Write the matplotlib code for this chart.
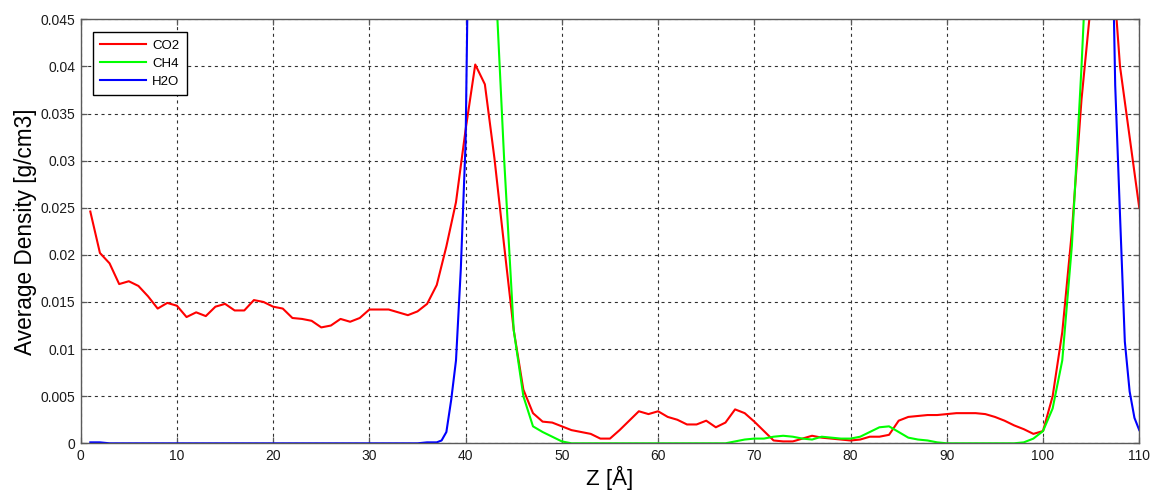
import matplotlib
matplotlib.use("Agg")
import matplotlib.pyplot as plt
from matplotlib.ticker import FixedLocator, FixedFormatter

plt.rcParams["font.family"] = ["Liberation Sans", "DejaVu Sans"]
plt.rcParams["lines.scale_dashes"] = False

# Z positions of the density bins (Angstrom)
z = list(range(1, 111))

co2 = [
    0.0246, 0.0202, 0.0191, 0.0169, 0.0172, 0.0167, 0.0156, 0.0143, 0.0149, 0.0146,
    0.0134, 0.0139, 0.0135, 0.0145, 0.0148, 0.0141, 0.0141, 0.0152, 0.0150, 0.0145,
    0.0143, 0.0133, 0.0132, 0.0130, 0.0123, 0.0125, 0.0132, 0.0129, 0.0133, 0.0142,
    0.0142, 0.0142, 0.0139, 0.0136, 0.0140, 0.0148, 0.0168, 0.0209, 0.0256, 0.0333,
    0.0402, 0.0381, 0.0302, 0.0210, 0.0120, 0.0057, 0.0032, 0.0023, 0.0022, 0.0018,
    0.0014, 0.0012, 0.0010, 0.0005, 0.0005, 0.0014, 0.0024, 0.0034, 0.0031, 0.0034,
    0.0028, 0.0025, 0.0020, 0.0020, 0.0024, 0.0017, 0.0022, 0.0036, 0.0032, 0.0023,
    0.0013, 0.0003, 0.0002, 0.0002, 0.0005, 0.0008, 0.0006, 0.0005, 0.0004, 0.0003,
    0.0004, 0.0007, 0.0007, 0.0009, 0.0024, 0.0028, 0.0029, 0.0030, 0.0030, 0.0031,
    0.0032, 0.0032, 0.0032, 0.0031, 0.0028, 0.0024, 0.0019, 0.0015, 0.0010, 0.0013,
    0.0050, 0.0118, 0.0225, 0.0365, 0.0470, 0.0550, 0.0540, 0.0400, 0.0325, 0.0250,
]

ch4 = [
    0.0712, 0.0705, 0.0698, 0.0703, 0.0710, 0.0707, 0.0699, 0.0702, 0.0708, 0.0711,
    0.0704, 0.0700, 0.0697, 0.0703, 0.0709, 0.0706, 0.0701, 0.0698, 0.0704, 0.0710,
    0.0707, 0.0702, 0.0699, 0.0705, 0.0711, 0.0708, 0.0703, 0.0700, 0.0706, 0.0712,
    0.0709, 0.0704, 0.0701, 0.0707, 0.0713, 0.0716, 0.0722, 0.0731, 0.0745, 0.0760,
    0.0720, 0.0640, 0.0515, 0.0302, 0.0120, 0.0050, 0.0018, 0.0012, 0.0007, 0.0002,
    0.0000, 0.0000, 0.0000, 0.0000, 0.0000, 0.0000, 0.0000, 0.0000, 0.0000, 0.0000,
    0.0000, 0.0000, 0.0000, 0.0000, 0.0000, 0.0000, 0.0000, 0.0002, 0.0004, 0.0005,
    0.0005, 0.0007, 0.0008, 0.0007, 0.0005, 0.0004, 0.0007, 0.0006, 0.0005, 0.0005,
    0.0007, 0.0012, 0.0017, 0.0018, 0.0012, 0.0006, 0.0004, 0.0003, 0.0001, 0.0000,
    0.0000, 0.0000, 0.0000, 0.0000, 0.0000, 0.0000, 0.0000, 0.0001, 0.0005, 0.0013,
    0.0037, 0.0088, 0.0210, 0.0400, 0.0620, 0.0760, 0.0745, 0.0728, 0.0718, 0.0712,
]

# water is sampled more finely across the two interfaces
z_h2o = (list(range(1, 38)) + [37.5, 38, 38.5, 39, 39.5, 40, 40.5]
         + list(range(41, 108)) + [107.5, 108, 108.5, 109, 109.5, 110])

h2o = (
    [0.0001, 0.0001, 0.0, 0.0, 0.0, 0.0, 0.0, 0.0, 0.0, 0.0,
     0.0, 0.0, 0.0, 0.0, 0.0, 0.0, 0.0, 0.0, 0.0, 0.0,
     0.0, 0.0, 0.0, 0.0, 0.0, 0.0, 0.0, 0.0, 0.0, 0.0,
     0.0, 0.0, 0.0, 0.0, 0.0, 0.0001, 0.0001,
     0.0003, 0.0012, 0.0046, 0.0088, 0.0185, 0.0320, 0.0700]
    + [0.31, 0.62, 0.85, 0.96, 0.99, 1.00, 1.01, 0.99, 1.00, 1.00,
       1.01, 0.99, 1.00, 1.00, 0.99, 1.01, 1.00, 1.00, 0.99, 1.00,
       1.01, 1.00, 0.99, 1.00, 1.00, 1.01, 0.99, 1.00, 1.00, 1.00,
       0.99, 1.01, 1.00, 1.00, 0.99, 1.00, 1.01, 1.00, 0.99, 1.00,
       1.00, 1.01, 0.99, 1.00, 1.00, 1.00, 0.99, 1.01, 1.00, 1.00,
       0.99, 1.00, 1.01, 1.00, 0.99, 1.00, 1.00, 1.01, 1.00, 0.98,
       0.95, 0.86, 0.66, 0.40, 0.19, 0.09, 0.065]
    + [0.0380, 0.0242, 0.0108, 0.0055, 0.0027, 0.0014]
)

series_names = ["CO2", "CH4", "H2O"]
series_colors = ["#ff0000", "#00ff00", "#0000ff"]

x_ticks = [0, 10, 20, 30, 40, 50, 60, 70, 80, 90, 100, 110]
y_ticks = [0, 0.005, 0.01, 0.015, 0.02, 0.025, 0.03, 0.035, 0.04, 0.045]
y_tick_labels = ["0", "0.005", "0.01", "0.015", "0.02", "0.025", "0.03",
                 "0.035", "0.04", "0.045"]

fig = plt.figure(figsize=(11.51, 4.90), dpi=100, facecolor="white")
ax = fig.add_axes([0.0701, 0.0953, 0.9197, 0.8653])

ax.plot(z, co2, color=series_colors[0], lw=1.5, label=series_names[0])
ax.plot(z, ch4, color=series_colors[1], lw=1.5, label=series_names[1])
ax.plot(z_h2o, h2o, color=series_colors[2], lw=1.5, label=series_names[2])

ax.set_xlim(0, 110)
ax.set_ylim(0, 0.045)
ax.xaxis.set_major_locator(FixedLocator(x_ticks))
ax.yaxis.set_major_locator(FixedLocator(y_ticks))
ax.yaxis.set_major_formatter(FixedFormatter(y_tick_labels))

ax.set_axisbelow(True)
ax.grid(True, color="#303030", linestyle=(0, (2.2, 2.6)), linewidth=0.8)

for sp in ax.spines.values():
    sp.set_color("#5a5a5a")
    sp.set_linewidth(1.0)

ax.tick_params(axis="both", which="major", direction="in", length=4,
               width=0.9, color="#5a5a5a", labelsize=10, labelcolor="#1a1a1a",
               top=True, right=True, pad=4)

ax.set_xlabel("Z [Å]", fontsize=16, labelpad=2)
ax.set_ylabel("Average Density [g/cm3]", fontsize=16.3, labelpad=2.5)

leg = ax.legend(loc="upper left", bbox_to_anchor=(0.0116, 0.970),
                borderaxespad=0, fancybox=False, framealpha=1,
                edgecolor="black", fontsize=9.5, handlelength=3.5,
                handletextpad=0.45, labelspacing=0.45, borderpad=0.55)
leg.get_frame().set_linewidth(1.0)

fig.savefig("out.png", dpi=100, facecolor="white")
